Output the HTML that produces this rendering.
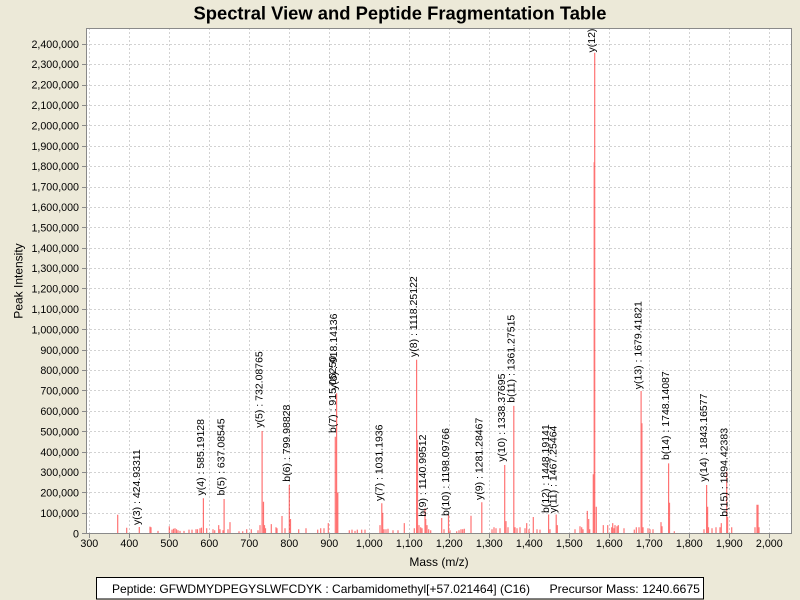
<!DOCTYPE html>
<html>
<head>
<meta charset="utf-8">
<style>
html,body{margin:0;padding:0;background:#ECE9D8;}
svg{display:block;}
text{font-family:"Liberation Sans",Arial,sans-serif;fill:#000;}
</style>
</head>
<body>
<svg width="800" height="600" viewBox="0 0 800 600" xmlns="http://www.w3.org/2000/svg">
<rect x="0" y="0" width="800" height="600" fill="#ECE9D8"/>
<text x="400" y="19.5" text-anchor="middle" font-size="18" font-weight="bold" textLength="413" lengthAdjust="spacingAndGlyphs">Spectral View and Peptide Fragmentation Table</text>

<defs>
<clipPath id="pc"><rect x="86" y="28" width="706" height="506"/></clipPath>
</defs>

<!-- plot background -->
<rect x="86" y="28" width="706" height="506" fill="#ffffff"/>

<!-- grid -->
<g stroke="#d2d2d2" stroke-width="1" stroke-dasharray="2,2" fill="none">
<path d="M89.5 28V534M129.5 28V534M169.5 28V534M209.5 28V534M249.5 28V534M289.5 28V534M329.5 28V534M369.5 28V534M409.5 28V534M449.5 28V534M489.5 28V534M529.5 28V534M569.5 28V534M609.5 28V534M649.5 28V534M689.5 28V534M729.5 28V534M769.5 28V534"/>
<path d="M86 513.5H792M86 492.5H792M86 472.5H792M86 452.5H792M86 431.5H792M86 411.5H792M86 390.5H792M86 370.5H792M86 350.5H792M86 329.5H792M86 309.5H792M86 288.5H792M86 268.5H792M86 248.5H792M86 227.5H792M86 207.5H792M86 187.5H792M86 166.5H792M86 146.5H792M86 125.5H792M86 105.5H792M86 85.5H792M86 64.5H792M86 44.5H792"/>
</g>

<!-- peaks -->
<g clip-path="url(#pc)" stroke="#ff0000" stroke-opacity="0.55" stroke-width="1.2" fill="none">
<path d="M117.7 533.3V514.7M126.7 533.3V527.8M139.3 533.3V527M150 533.3V526.6M151 533.3V527.2M158 533.3V530.9M169.3 533.3V526.2M172 533.3V529.6M173.5 533.3V528.8M175 533.3V528.2M176.5 533.3V529.2M178 533.3V530.2M180 533.3V530.9M184 533.3V530.9M189 533.3V529.6M192 533.3V529.6M196 533.3V529.2M197.5 533.3V529.2M200 533.3V528.2M201.5 533.3V527.6M203.4 533.3V498.2M203.4 533.3V498.2M206.7 533.3V528.2M213 533.3V529.2M214.7 533.3V530.2M218.7 533.3V525.1M220 533.3V529.2M224.1 533.3V499M224.1 533.3V499M223 533.3V530.2M228 533.3V529.2M230 533.3V522.1M239 533.3V531.3M242.7 533.3V531.3M246.7 533.3V529.2M251.3 533.3V529.2M258 533.3V530.2M260 533.3V525.1M262.1 533.3V431M262.1 533.3V431M263.5 533.3V501.7M264.5 533.3V525.1M265.5 533.3V528.2M271.3 533.3V524.1M276 533.3V527.2M277 533.3V528.2M282 533.3V516M285 533.3V528.2M289.3 533.3V485M289.3 533.3V485M290.5 533.3V519M298.7 533.3V529.2M306 533.3V528.2M317.7 533.3V529.6M320.7 533.3V528.2M324 533.3V528.2M328.3 533.3V523.1"/>
<path d="M335.3 533.3V436.7M335.3 533.3V436.7M336.6 533.3V393.2M336.6 533.3V393.2M337.8 533.3V492.5M349.3 533.3V530.2M352 533.3V529.6M355 533.3V530.9M357.3 533.3V529.6M361.7 533.3V529.6M365 533.3V529.6M380 533.3V525.1M381.8 533.3V503.3M381.8 533.3V503.3M382.7 533.3V512.9M384 533.3V529.2M386 533.3V529.2M388 533.3V528.8M393 533.3V530.2M398 533.3V530.2M404.3 533.3V523.1M414.3 533.3V528.2M416.6 533.3V359.8M416.6 533.3V359.8M417.5 533.3V439.9M419 533.3V525.1M420.7 533.3V527.2M422 533.3V528.2M425 533.3V508.2M425.7 533.3V519M427 533.3V525.1M428.7 533.3V529.2M430.7 533.3V530.2M441.7 533.3V518M444 533.3V529.2M448.5 533.3V515M448.5 533.3V515M450 533.3V530.2M456.7 533.3V531.3M459 533.3V530.2M461 533.3V529.2M462.7 533.3V529.2M464.3 533.3V528.8M471 533.3V515.8M481.8 533.3V502.3M481.8 533.3V502.3M492 533.3V529.2M494 533.3V527.2M496 533.3V528.2M500 533.3V528.2M504.7 533.3V465M504.7 533.3V465M506 533.3V521.1M508 533.3V527.2M513.8 533.3V405.9M513.8 533.3V405.9M515 533.3V527.2M517 533.3V528.2M520 533.3V527.2M525 533.3V528.2M526.7 533.3V523.1M529 533.3V529.2M533.3 533.3V517M537 533.3V529.2M540 533.3V529.6M548.6 533.3V514.5M548.6 533.3V514.5M550 533.3V529.2M556.2 533.3V514.5M556.2 533.3V514.5M557.3 533.3V525.1"/>
<path d="M575 533.3V529.2M580 533.3V526.2M581.7 533.3V527.2M583 533.3V529.2M587.3 533.3V510.9M588.7 533.3V519M589.7 533.3V529.2M593.3 533.3V474.2M594.2 533.3V162.2M594.7 533.3V52.7M594.7 533.3V52.7M596.3 533.3V506.8M603.3 533.3V525.1M607.7 533.3V525.1M611.7 533.3V527.2M612.7 533.3V523.1M614 533.3V528.2M615 533.3V525.1M617 533.3V526.2M618.3 533.3V525.1M624 533.3V528.2M634.3 533.3V529.6M636.3 533.3V527.2M639 533.3V527.2M641.1 533.3V391M641.1 533.3V391M641.9 533.3V423.2M643 533.3V527.2M648 533.3V528.2M650 533.3V529.2M653 533.3V529.2M661 533.3V522.1M662 533.3V526.2M668.6 533.3V463.4M668.6 533.3V463.4M669.5 533.3V502.7M674.3 533.3V531.3M704 533.3V529.2M706.6 533.3V485M706.6 533.3V485M707.6 533.3V506.8M708.5 533.3V527.2M712 533.3V528.2M716 533.3V527.2M720 533.3V527.2M721.3 533.3V523.1M726.7 533.3V471.7M726.7 533.3V471.7M727.6 533.3V517M731.7 533.3V527.2M755 533.3V527.2M757 533.3V504.8M758 533.3V504.8M759 533.3V527.2"/>
</g>

<!-- peak labels -->
<g clip-path="url(#pc)" font-size="10.5">
<text transform="translate(139.8,525) rotate(-90)">y(3) : 424.93311</text>
<text transform="translate(203.9,495.5) rotate(-90)">y(4) : 585.19128</text>
<text transform="translate(224.6,495.5) rotate(-90)">b(5) : 637.08545</text>
<text transform="translate(262.6,427.7) rotate(-90)">y(5) : 732.08765</text>
<text transform="translate(289.8,481.7) rotate(-90)">b(6) : 799.98828</text>
<text transform="translate(335.8,433) rotate(-90)">b(7) : 915.05250</text>
<text transform="translate(337.1,390) rotate(-90)">y(6) : 918.14136</text>
<text transform="translate(382.3,501) rotate(-90)">y(7) : 1031.1936</text>
<text transform="translate(417.1,357) rotate(-90)">y(8) : 1118.25122</text>
<text transform="translate(426.2,516.7) rotate(-90)">b(9) : 1140.99512</text>
<text transform="translate(449,516) rotate(-90)">b(10) : 1198.09766</text>
<text transform="translate(482.3,500) rotate(-90)">y(9) : 1281.28467</text>
<text transform="translate(505.2,461.7) rotate(-90)">y(10) : 1338.37695</text>
<text transform="translate(514.3,402.7) rotate(-90)">b(11) : 1361.27515</text>
<text transform="translate(549.1,513) rotate(-90)">b(12) : 1448.19141</text>
<text transform="translate(556.7,513) rotate(-90)">y(11) : 1467.25464</text>
<text transform="translate(595.2,52.5) rotate(-90)">y(12) : 1563.57739</text>
<text transform="translate(641.6,389.3) rotate(-90)">y(13) : 1679.41821</text>
<text transform="translate(669.1,460) rotate(-90)">b(14) : 1748.14087</text>
<text transform="translate(707.1,481.7) rotate(-90)">y(14) : 1843.16577</text>
<text transform="translate(727.6,516.7) rotate(-90)">b(15) : 1894.42383</text>
</g>

<!-- plot outline -->
<rect x="86.5" y="28.5" width="705" height="505" fill="none" stroke="#8a8a8a" stroke-width="1"/>

<!-- ticks -->
<g stroke="#8a8a8a" stroke-width="1">
<path d="M89.5 534V538M129.5 534V538M169.5 534V538M209.5 534V538M249.5 534V538M289.5 534V538M329.5 534V538M369.5 534V538M409.5 534V538M449.5 534V538M489.5 534V538M529.5 534V538M569.5 534V538M609.5 534V538M649.5 534V538M689.5 534V538M729.5 534V538M769.5 534V538"/>
<path d="M82 533.5H86M82 513.5H86M82 492.5H86M82 472.5H86M82 452.5H86M82 431.5H86M82 411.5H86M82 390.5H86M82 370.5H86M82 350.5H86M82 329.5H86M82 309.5H86M82 288.5H86M82 268.5H86M82 248.5H86M82 227.5H86M82 207.5H86M82 187.5H86M82 166.5H86M82 146.5H86M82 125.5H86M82 105.5H86M82 85.5H86M82 64.5H86M82 44.5H86"/>
</g>

<!-- y tick labels -->
<g font-size="10.7" text-anchor="end">
<text x="79" y="537.3">0</text>
<text x="79" y="517">100,000</text>
<text x="79" y="496.6">200,000</text>
<text x="79" y="476.2">300,000</text>
<text x="79" y="455.8">400,000</text>
<text x="79" y="435.4">500,000</text>
<text x="79" y="415">600,000</text>
<text x="79" y="394.6">700,000</text>
<text x="79" y="374.2">800,000</text>
<text x="79" y="353.8">900,000</text>
<text x="79" y="333.4">1,000,000</text>
<text x="79" y="313">1,100,000</text>
<text x="79" y="292.6">1,200,000</text>
<text x="79" y="272.2">1,300,000</text>
<text x="79" y="251.8">1,400,000</text>
<text x="79" y="231.4">1,500,000</text>
<text x="79" y="211">1,600,000</text>
<text x="79" y="190.6">1,700,000</text>
<text x="79" y="170.2">1,800,000</text>
<text x="79" y="149.8">1,900,000</text>
<text x="79" y="129.4">2,000,000</text>
<text x="79" y="109">2,100,000</text>
<text x="79" y="88.6">2,200,000</text>
<text x="79" y="68.2">2,300,000</text>
<text x="79" y="47.8">2,400,000</text>
</g>

<!-- x tick labels -->
<g font-size="10.7" text-anchor="middle">
<text x="89.3" y="547">300</text>
<text x="129.3" y="547">400</text>
<text x="169.3" y="547">500</text>
<text x="209.3" y="547">600</text>
<text x="249.3" y="547">700</text>
<text x="289.3" y="547">800</text>
<text x="329.3" y="547">900</text>
<text x="369.3" y="547">1,000</text>
<text x="409.3" y="547">1,100</text>
<text x="449.3" y="547">1,200</text>
<text x="489.3" y="547">1,300</text>
<text x="529.3" y="547">1,400</text>
<text x="569.3" y="547">1,500</text>
<text x="609.3" y="547">1,600</text>
<text x="649.3" y="547">1,700</text>
<text x="689.3" y="547">1,800</text>
<text x="729.3" y="547">1,900</text>
<text x="769.3" y="547">2,000</text>
</g>

<!-- axis titles -->
<text x="439" y="566" font-size="12" text-anchor="middle">Mass (m/z)</text>
<text transform="translate(22.5,281) rotate(-90)" font-size="12" text-anchor="middle">Peak Intensity</text>

<!-- legend box -->
<rect x="96.5" y="577.5" width="607" height="21.5" fill="#ffffff" stroke="#000000" stroke-width="1"/>
<text x="112" y="593" font-size="12" textLength="418" lengthAdjust="spacingAndGlyphs">Peptide: GFWDMYDPEGYSLWFCDYK : Carbamidomethyl[+57.021464] (C16)</text>
<text x="549.5" y="593" font-size="12" textLength="150.5" lengthAdjust="spacingAndGlyphs">Precursor Mass: 1240.6675</text>
</svg>
</body>
</html>
